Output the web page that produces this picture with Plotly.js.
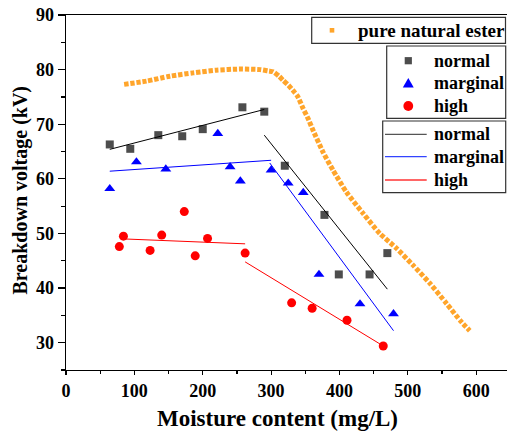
<!DOCTYPE html>
<html>
<head>
<meta charset="utf-8">
<script src="https://cdn.plot.ly/plotly-3.0.1.min.js"></script>
<style>html,body{margin:0;padding:0;background:#fff;}#chart{width:507px;height:432px;}</style>
</head>
<body>
<div id="chart"></div>
<script>
// Pure natural ester curve
var esterX = [85, 118, 152, 186, 220, 254, 284, 296, 303, 311.5, 317.4, 325.6, 332, 338.8, 346.7, 353.5, 361.3, 375.9, 390.5, 410, 434.4, 458.9, 483.3, 507.5, 532, 556.4, 578.3, 590.5];
var esterY = [77.3, 77.9, 78.8, 79.4, 79.9, 80.1, 80.0, 79.75, 79.6, 78.8, 78.05, 77.1, 76.2, 75.1, 72.9, 71.2, 68.9, 64.9, 61.6, 57.6, 53.7, 50.0, 47.3, 44.2, 40.9, 37.2, 33.8, 32.2];

// Measured points
var normalX = [64, 94, 135, 170, 200, 258, 290, 320, 378, 399, 444, 470];
var normalY = [66.3, 65.5, 68.0, 67.8, 69.1, 73.1, 72.3, 62.4, 53.4, 42.5, 42.5, 46.4];
var marginalX = [64, 103, 146, 222, 240, 255, 300, 325, 347, 370, 430, 479];
var marginalY = [58.2, 63.1, 61.8, 68.3, 62.2, 59.6, 61.6, 59.2, 57.5, 42.5, 37.1, 35.3];
var highX = [78, 84, 123, 140, 173, 189, 207, 262, 330, 360, 411, 464];
var highY = [47.6, 49.5, 46.9, 49.7, 54.0, 45.9, 49.1, 46.4, 37.3, 36.3, 34.1, 29.4];

// Fitted line segments (two per series)
var normalFit1X = [64, 290], normalFit1Y = [65.4, 72.7];
var normalFit2X = [290, 470], normalFit2Y = [68.0, 39.8];
var marginalFit1X = [64, 300], marginalFit1Y = [61.4, 63.4];
var marginalFit2X = [298, 479], marginalFit2Y = [62.9, 32.2];
var highFit1X = [84, 262], highFit1Y = [49.0, 48.1];
var highFit2X = [262, 464], highFit2Y = [44.8, 29.4];

var seriesNames = ['normal', 'marginal', 'high'];
var esterName = 'pure natural ester';
var xTitle = 'Moisture content (mg/L)';
var yTitle = 'Breakdown voltage (kV)';

var FONT = 'Liberation Serif';
var cGray = '#4d4d4d', cBlue = '#0000ff', cRed = '#ff0000', cOrange = '#ffa52b';

// plot-area geometry (pixels) used to place the legend boxes
var L = 66, T = 15, W = 441, H = 355;
function PX(px) { return (px - L) / W; }
function PY(py) { return (T + H - py) / H; }

var traces = [
  {x: esterX, y: esterY, mode: 'lines', name: esterName, line: {color: cOrange, width: 5, dash: '4.3px,1.8px', shape: 'spline', smoothing: 0.6}},
  {x: normalX, y: normalY, mode: 'markers', name: seriesNames[0], marker: {symbol: 'square', color: cGray, size: 8}},
  {x: marginalX, y: marginalY, mode: 'markers', name: seriesNames[1], marker: {symbol: 'triangle-up', color: cBlue, size: 9.5}},
  {x: highX, y: highY, mode: 'markers', name: seriesNames[2], marker: {symbol: 'circle', color: cRed, size: 9}},
  {x: normalFit1X, y: normalFit1Y, mode: 'lines', name: seriesNames[0], line: {color: '#000', width: 1}},
  {x: marginalFit1X, y: marginalFit1Y, mode: 'lines', name: seriesNames[1], line: {color: cBlue, width: 1}},
  {x: highFit1X, y: highFit1Y, mode: 'lines', name: seriesNames[2], line: {color: cRed, width: 1}},
  {x: normalFit2X, y: normalFit2Y, mode: 'lines', name: seriesNames[0], line: {color: '#000', width: 1}},
  {x: marginalFit2X, y: marginalFit2Y, mode: 'lines', name: seriesNames[1], line: {color: cBlue, width: 1}},
  {x: highFit2X, y: highFit2Y, mode: 'lines', name: seriesNames[2], line: {color: cRed, width: 1}}
];

// ---- legend boxes (three separate boxes as in the original) ----
var shapes = [];
var annotations = [];
function box(x0, y0, x1, y1) {
  shapes.push({type: 'rect', xref: 'paper', yref: 'paper', x0: PX(x0), x1: PX(x1), y0: PY(y1), y1: PY(y0),
    line: {color: '#333', width: 1.2}, fillcolor: '#fff', layer: 'above'});
}
function label(text, xl, yc, size) {
  annotations.push({text: text, xref: 'paper', yref: 'paper', x: PX(xl), y: PY(yc), xanchor: 'left', yanchor: 'middle',
    showarrow: false, font: {family: FONT, size: size, color: '#000', weight: 700}});
}
function sym(kind, color, xc, yc, r) {
  var s = {xref: 'paper', yref: 'paper', xsizemode: 'pixel', ysizemode: 'pixel', xanchor: PX(xc), yanchor: PY(yc),
    fillcolor: color, line: {width: 0}, layer: 'above'};
  if (kind === 'path') { s.type = 'path'; s.path = 'M' + (-r * 1.05) + ',' + (-r * 0.8) + ' L' + (r * 1.05) + ',' + (-r * 0.8) + ' L0,' + r + ' Z'; }
  else { s.type = kind; s.x0 = -r; s.x1 = r; s.y0 = -r; s.y1 = r; }
  shapes.push(s);
}
function sample(color, x0, x1, yc) {
  shapes.push({type: 'line', xref: 'paper', yref: 'paper', x0: PX(x0), x1: PX(x1), y0: PY(yc), y1: PY(yc),
    line: {color: color, width: 1.3}, layer: 'above'});
}

box(311.7, 17.3, 505.5, 43.3);
sym('rect', cOrange, 332, 30.3, 2.3);
label(esterName, 355.5, 30.3, 19);

box(386.7, 46, 505.7, 118.3);
var legYs = [60.7, 83.3, 106];
sym('rect', cGray, 408.3, legYs[0], 3.6);
sym('path', cBlue, 408.3, legYs[1], 5.2);
sym('circle', cRed, 408.3, legYs[2], 4.9);
for (var i = 0; i < 3; i++) label(seriesNames[i], 431.5, legYs[i], 18);

box(382.7, 121, 505.7, 192.7);
var lineYs = [134.3, 156.7, 180];
var lineCols = ['#555', '#3344ff', '#ff3333'];
for (var j = 0; j < 3; j++) { sample(lineCols[j], 385, 426.7, lineYs[j]); label(seriesNames[j], 431.5, lineYs[j], 18); }

// axis titles
annotations.push({text: xTitle, xref: 'paper', yref: 'paper', x: PX(277.5), y: PY(418), xanchor: 'center', yanchor: 'middle', showarrow: false,
  font: {family: FONT, size: 23, color: '#000', weight: 700}});
annotations.push({text: yTitle, xref: 'paper', yref: 'paper', x: PX(19.5), y: PY(190), xanchor: 'center', yanchor: 'middle', showarrow: false, textangle: -90,
  font: {family: FONT, size: 20, color: '#000', weight: 700}});

var layout = {
  width: 507, height: 432,
  margin: {l: L, r: 507 - L - W, t: T, b: 432 - T - H, pad: 0},
  paper_bgcolor: '#fff', plot_bgcolor: '#fff',
  font: {family: FONT, color: '#000'},
  showlegend: false,
  xaxis: {
    range: [0, 645], dtick: 100, tick0: 0,
    showline: true, linecolor: '#000', linewidth: 1.3, mirror: true,
    ticks: 'outside', ticklen: 4, tickwidth: 1.2, tickcolor: '#000',
    minor: {dtick: 50, ticks: 'outside', ticklen: 3, tickwidth: 1.2, tickcolor: '#000'},
    showgrid: false, zeroline: false,
    tickfont: {family: FONT, size: 18, color: '#000', weight: 700}
  },
  yaxis: {
    range: [25, 90], dtick: 10, tick0: 0,
    showline: true, linecolor: '#000', linewidth: 1.3,
    ticks: 'outside', ticklen: 7, tickwidth: 1.2, tickcolor: '#000',
    minor: {dtick: 5, ticks: 'outside', ticklen: 4, tickwidth: 1.2, tickcolor: '#000'},
    showgrid: false, zeroline: false,
    tickfont: {family: FONT, size: 18, color: '#000', weight: 700}
  },
  shapes: shapes,
  annotations: annotations
};

Plotly.newPlot('chart', traces, layout, {displayModeBar: false, staticPlot: true});
</script>
</body>
</html>
